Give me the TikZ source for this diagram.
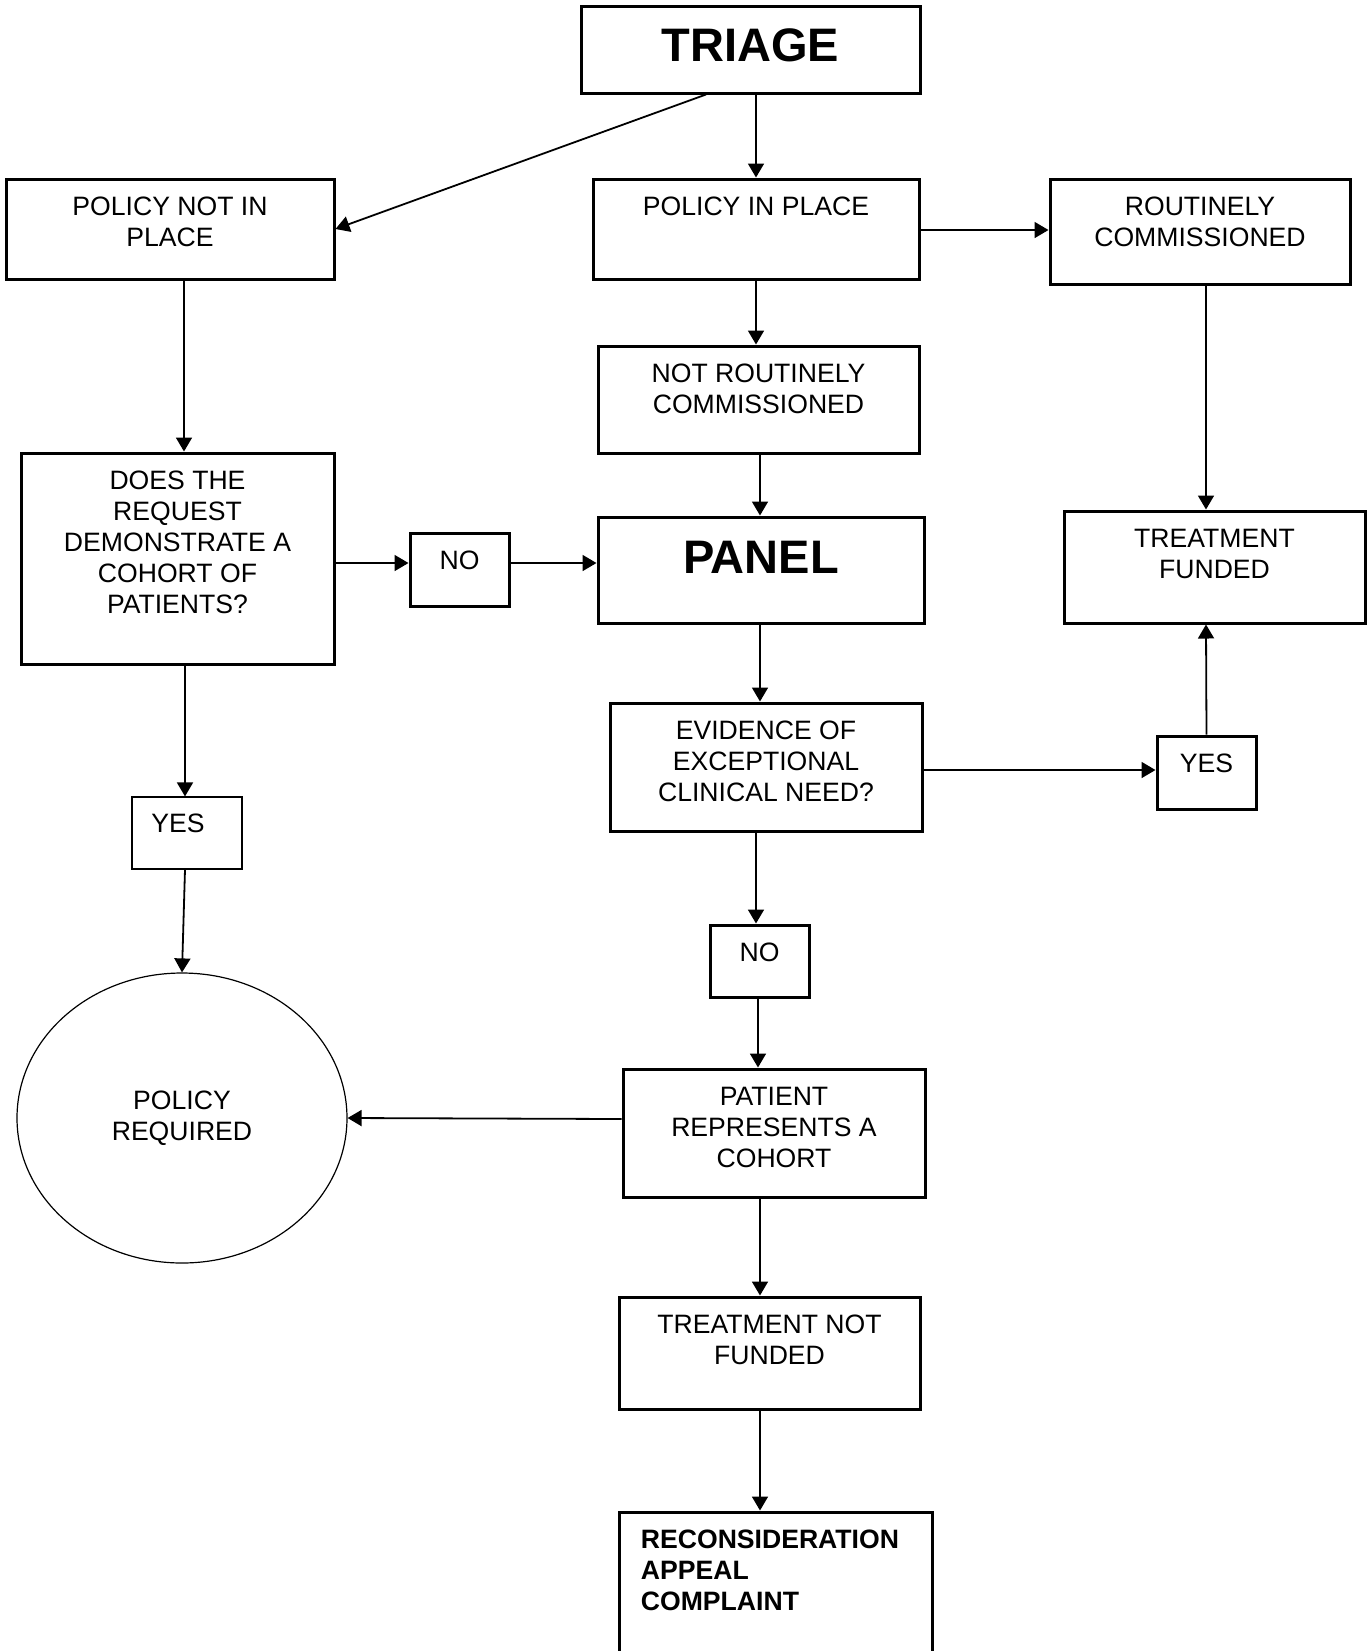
\documentclass[tikz,border=0pt]{standalone}
\usepackage{fontspec}
\setmainfont{Liberation Sans}
\usetikzlibrary{arrows.meta,shapes.geometric}

\tikzset{
  box/.style={draw, line width=1.5pt, inner sep=0pt},
  thinbox/.style={draw, line width=0.6pt, inner sep=0pt},
  txt/.style={anchor=north, inner sep=0pt, align=center, yshift=-9.5pt},
  bigtxt/.style={font=\fontsize{23.5}{26}\selectfont\bfseries},
  boldtxt/.style={font=\fontsize{13.3}{15.5}\selectfont\bfseries},
  arr/.style={-{Triangle[length=7pt,width=8pt]}, line width=0.9pt},
}

\begin{document}
\begin{tikzpicture}[x=0.5pt, y=-0.5pt, font=\fontsize{13.3}{15.5}\selectfont]
    \useasboundingbox (0,0) rectangle (1368,1651);

    \node[box, minimum width=169.5pt, minimum height=43.5pt, label={[txt, yshift=-2.5pt, bigtxt]north:TRIAGE}] (triage) at (750.5,49.5) {};
    \node[box, minimum width=164pt, minimum height=50pt, label={[txt]north:POLICY NOT IN\\PLACE}] (notin) at (170,229) {};
    \node[box, minimum width=163pt, minimum height=50pt, label={[txt]north:POLICY IN PLACE}] (inplace) at (756,229) {};
    \node[box, minimum width=150pt, minimum height=52.5pt, label={[txt]north:ROUTINELY\\COMMISSIONED}] (routine) at (1200,231.5) {};
    \node[box, minimum width=160.5pt, minimum height=53.5pt, label={[txt]north:NOT ROUTINELY\\COMMISSIONED}] (notroutine) at (758.5,399.5) {};
    \node[box, minimum width=156.5pt, minimum height=105.5pt, label={[txt]north:DOES THE\\REQUEST\\DEMONSTRATE A\\COHORT OF\\PATIENTS?}] (cohortq) at (177.5,558.5) {};
    \node[box, minimum width=49.5pt, minimum height=36.5pt, label={[txt]north:NO}] (no1) at (459.5,569.5) {};
    \node[box, minimum width=163pt, minimum height=53pt, label={[txt, yshift=-3pt, bigtxt]north:PANEL}] (panel) at (761,570) {};
    \node[box, minimum width=150.5pt, minimum height=56pt, label={[txt]north:TREATMENT\\FUNDED}] (funded) at (1214.5,567) {};
    \node[box, minimum width=156pt, minimum height=64pt, label={[txt]north:EVIDENCE OF\\EXCEPTIONAL\\CLINICAL NEED?}] (evidence) at (766,767) {};
    \node[box, minimum width=49.5pt, minimum height=36.5pt, label={[txt]north:YES}] (yes2) at (1206.5,772.5) {};
    \node[thinbox, minimum width=55pt, minimum height=36pt, label={[txt, yshift=1pt, xshift=-4.5pt]north:YES}] (yes1) at (187,833) {};
    \node[box, minimum width=49.5pt, minimum height=36pt, label={[txt]north:NO}] (no2) at (759.5,961) {};
    \node[ellipse, draw, line width=0.6pt, minimum width=165pt, minimum height=145pt, align=center] (polreq) at (182,1118) {POLICY\\REQUIRED};
    \node[box, minimum width=151pt, minimum height=64pt, label={[txt]north:PATIENT\\REPRESENTS A\\COHORT}] (cohort) at (774,1133) {};
    \node[box, minimum width=150.5pt, minimum height=56pt, label={[txt]north:TREATMENT NOT\\FUNDED}] (notfunded) at (769.5,1353) {};
    \node[box, minimum width=156.5pt, minimum height=84pt, label={[txt, anchor=north west, align=left, xshift=11.5pt, boldtxt]north west:RECONSIDERATION\\APPEAL\\COMPLAINT}] (review) at (775.5,1596) {};

    \path[arr] ([xshift=-22.25pt]triage.south) edge (notin.east);
    \path[arr] ([xshift=2.75pt]triage.south) edge (inplace.north);
    \path[arr] ([yshift=-0.5pt]inplace.east) edge ([yshift=0.75pt]routine.west);
    \path[arr] (inplace.south) edge ([xshift=-1.25pt]notroutine.north);
    \path[arr] ([xshift=0.75pt]notroutine.south) edge ([xshift=-0.5pt]panel.north);
    \path[arr] ([xshift=7pt]notin.south) edge ([xshift=3.25pt]cohortq.north);
    \path[arr] ([yshift=-2.25pt]cohortq.east) edge ([yshift=3.25pt]no1.west);
    \path[arr] ([yshift=3.25pt]no1.east) edge ([yshift=3.5pt]panel.west);
    \path[arr] ([xshift=3pt]routine.south) edge ([xshift=-4.25pt]funded.north);
    \path[arr] ([xshift=-0.5pt]panel.south) edge ([xshift=-3pt]evidence.north);
    \path[arr] ([yshift=-1.5pt]evidence.east) edge ([yshift=1.25pt]yes2.west);
    \path[arr] (yes2.north) edge ([xshift=-4.25pt]funded.south);
    \path[arr] ([xshift=3.75pt]cohortq.south) edge ([xshift=-1pt]yes1.north);
    \path[arr] ([xshift=-1pt]yes1.south) edge (polreq.north);
    \path[arr] ([xshift=-5pt]evidence.south) edge ([xshift=-1.75pt]no2.north);
    \path[arr] ([xshift=-0.75pt]no2.south) edge ([xshift=-8pt]cohort.north);
    \path[arr] ([yshift=7pt]cohort.west) edge (polreq.east);
    \path[arr] ([xshift=-7pt]cohort.south) edge ([xshift=-4.75pt]notfunded.north);
    \path[arr] ([xshift=-4.75pt]notfunded.south) edge ([xshift=-7.75pt]review.north);
\end{tikzpicture}
\end{document}
